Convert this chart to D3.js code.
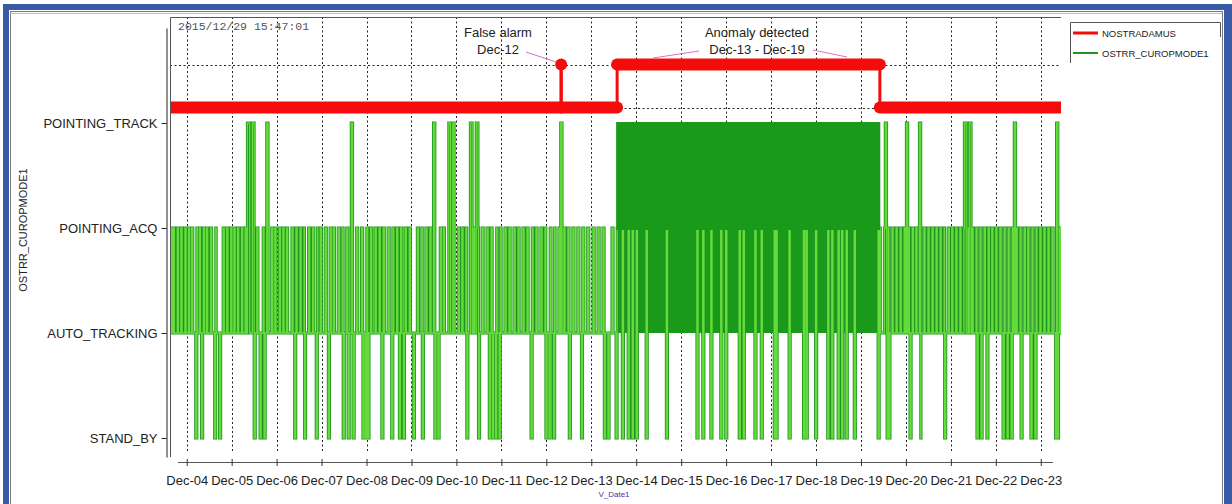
<!DOCTYPE html>
<html>
<head>
<meta charset="utf-8">
<script src="https://cdn.jsdelivr.net/npm/d3@7"></script>
<style>
  body { margin: 0; background: #fff; }
  svg { display: block; font-family: "Liberation Sans", Arial, sans-serif; }
</style>
</head>
<body>
<svg id="chart" width="1232" height="504"></svg>
<script>
"use strict";

/*
 * OSTRR_CUROPMODE1 mode history with the NOSTRADAMUS anomaly flag on top.
 * Times are days of December 2015 (4.5 = Dec-04 12:00).
 */

const states = ["STAND_BY", "AUTO_TRACKING", "POINTING_ACQ", "POINTING_TRACK"];
const dayTicks = d3.range(4, 24);
const timeSpan = [3.628, 23.45];

// NOSTRADAMUS flag: 0 = nominal, 1 = anomaly
const nostraDays = [3.628, 12.33, 12.33, 12.33, 13.575, 13.575, 19.42, 19.42, 23.45];
const nostraVals = [0, 0, 1, 0, 0, 1, 1, 0, 0];

// flicker between POINTING_TRACK and AUTO_TRACKING
const denseRange = [13.575, 19.43];

// short rises from AUTO_TRACKING to POINTING_ACQ
const acqPulsesA = [
  3.66, 3.70, 3.79, 3.87, 3.96, 4.04, 4.11, 4.21, 4.28, 4.37, 4.44, 4.53, 4.63, 4.73,
  4.81, 4.89, 4.98, 5.05, 5.13, 5.22, 5.30, 5.56, 5.63, 5.70, 5.89, 5.96, 6.06, 6.14,
  6.22, 6.34, 6.43, 6.52, 6.61, 6.71, 6.80, 6.89, 6.97, 7.08, 7.19, 7.26, 7.37, 7.47,
  7.56, 7.78, 7.89, 8.00, 8.09, 8.19, 8.28, 8.37, 8.48, 8.58, 8.67, 8.76, 8.86, 8.95,
  9.04, 9.13, 9.23, 9.32, 9.41, 9.64, 9.71, 10.04, 10.12, 10.21, 10.38, 10.48, 10.57,
  10.68, 10.77, 10.88, 10.97, 11.08, 11.17, 11.28, 11.37, 11.48, 11.57, 11.68, 11.77,
  11.88, 11.97, 12.08, 12.17, 12.28, 12.39, 12.48, 12.59, 12.70, 12.81, 12.92, 13.04,
  13.15, 13.26, 13.37, 13.46
];
const acqPulsesB = [
  19.52, 19.60, 19.69, 19.78, 19.87, 19.96, 20.05, 20.14, 20.22, 20.31, 20.40, 20.49,
  20.58, 20.67, 20.76, 20.85, 20.94, 21.02, 21.11, 21.20, 21.29, 21.38, 21.47, 21.56,
  21.65, 21.74, 21.83, 21.91, 22.00, 22.09, 22.18, 22.27, 22.36, 22.45, 22.54, 22.63,
  22.71, 22.80, 22.89, 22.98, 23.07, 23.16, 23.25, 23.34, 23.42
];

// short drops to STAND_BY
const standbyDips = [
  4.20, 4.33, 4.62, 4.73, 5.37, 5.50, 5.63, 5.72, 6.40, 6.62, 6.88, 7.15, 7.48, 7.59,
  7.70, 7.92, 7.98, 8.03, 8.34, 8.56, 8.73, 8.82, 9.04, 9.24, 9.52, 9.59, 9.83, 10.23,
  10.49, 10.73, 10.80, 10.87, 10.95, 11.66, 11.99, 12.06, 12.16, 12.51, 12.78, 13.29,
  13.37, 13.55, 13.69, 13.82, 13.91, 14.00, 14.22, 14.67, 15.35, 15.48, 15.66, 15.88,
  15.99, 16.29, 16.38, 16.64, 16.78, 17.07, 17.11, 17.40, 17.72, 17.78, 17.99, 18.26,
  18.35, 18.49, 18.57, 18.67, 18.85, 19.38, 19.58, 19.62, 20.09, 20.31, 20.86, 21.31,
  21.58, 21.67, 21.80, 22.16, 22.25, 22.34, 22.56, 22.78, 22.87, 23.33, 23.37
];

// short rises to POINTING_TRACK: start / end
const trackStart = [5.35, 5.46, 5.78, 7.66, 9.49, 9.83, 9.92, 10.31, 10.44, 12.32, 19.54, 20.01, 20.30, 21.30, 21.41, 22.41, 23.35];
const trackEnd   = [5.40, 5.50, 5.81, 7.69, 9.52, 9.87, 9.95, 10.35, 10.48, 12.35, 19.57, 20.04, 20.33, 21.34, 21.45, 22.44, 23.38];

const pulseWidth = 0.026;

const toDate = d => new Date(Date.UTC(2015, 10, 30) + d * 864e5);

const svg = d3.select("#chart");
const plot = {left: 170, right: 1061, top: 17, bottom: 455};

const x = d3.scaleUtc()
    .domain(timeSpan.map(toDate))
    .range([plot.left, plot.right]);
const y = d3.scaleLinear()
    .domain([-0.181, 3.905])
    .range([457, 28]);
const yFlag = d3.scaleLinear()
    .domain([0, 1])
    .range([107.5, 64.5]);

// page frame
svg.append("rect").attr("width", 1232).attr("height", 504).attr("fill", "#fff");
svg.append("rect").attr("x", 3).attr("y", 4).attr("width", 1229).attr("height", 500)
    .attr("fill", "#3a5aa7");
svg.append("rect").attr("x", 9).attr("y", 10).attr("width", 1215).attr("height", 494)
    .attr("fill", "#fff");
svg.append("rect").attr("x", 10.5).attr("y", 11.5).attr("width", 1212).attr("height", 500)
    .attr("fill", "none").attr("stroke", "#777").attr("stroke-width", 1);
svg.append("line").attr("x1", 10).attr("x2", 1222).attr("y1", 13.5).attr("y2", 13.5)
    .attr("stroke", "#bbb");

svg.append("defs").append("clipPath").attr("id", "plotClip")
  .append("rect")
    .attr("x", plot.left).attr("y", plot.top)
    .attr("width", plot.right - plot.left).attr("height", plot.bottom - plot.top);

// grid
const grid = svg.append("g");
grid.selectAll("line.v")
  .data(dayTicks)
  .join("line")
    .attr("class", "v")
    .attr("x1", d => Math.round(x(toDate(d))) + 0.5)
    .attr("x2", d => Math.round(x(toDate(d))) + 0.5)
    .attr("y1", plot.top)
    .attr("y2", 452)
    .attr("stroke", "#222")
    .attr("stroke-dasharray", "2,2.5");
grid.selectAll("line.h")
  .data([0, 1])
  .join("line")
    .attr("class", "h")
    .attr("x1", plot.left)
    .attr("x2", plot.right)
    .attr("y1", d => Math.round(yFlag(d)) + 0.5)
    .attr("y2", d => Math.round(yFlag(d)) + 0.5)
    .attr("stroke", "#222")
    .attr("stroke-dasharray", "2,2.5");

// green series as a step function
const acqPulses = acqPulsesA.concat(acqPulsesB);

function modeAt(t) {
  for (let i = 0; i < trackStart.length; i++) {
    if (t >= trackStart[i] && t < trackEnd[i]) return 3;
  }
  for (const d of standbyDips) {
    if (t >= d && t < d + pulseWidth) return 0;
  }
  if (t >= denseRange[0] && t < denseRange[1]) return 2;
  for (const d of acqPulses) {
    if (t >= d && t < d + pulseWidth) return 2;
  }
  return 1;
}

function modeSeries() {
  let times = [timeSpan[0], timeSpan[1]]
    .concat(denseRange, trackStart, trackEnd,
            acqPulses, acqPulses.map(d => d + pulseWidth),
            standbyDips, standbyDips.map(d => d + pulseWidth));
  times = Array.from(new Set(times)).sort(d3.ascending);
  return times.map(t => ({t, v: modeAt(t)}));
}

const modes = modeSeries();
const modeLine = d3.line()
    .x(d => x(toDate(d.t)))
    .y(d => y(d.v))
    .curve(d3.curveStepAfter);

const green = svg.append("g").attr("clip-path", "url(#plotClip)");
green.append("rect")
    .attr("x", x(toDate(denseRange[0])))
    .attr("width", x(toDate(denseRange[1])) - x(toDate(denseRange[0])))
    .attr("y", y(2))
    .attr("height", y(1) - y(2))
    .attr("fill", "#1a9a1a");
green.append("path")
    .datum(modes)
    .attr("d", modeLine)
    .attr("fill", "none")
    .attr("stroke", "#1f951f")
    .attr("stroke-width", 3);
green.append("path")
    .datum(modes)
    .attr("d", modeLine)
    .attr("fill", "none")
    .attr("stroke", "#66dc3c")
    .attr("stroke-width", 1.3);
green.append("rect")
    .attr("x", x(toDate(denseRange[0])) - 1)
    .attr("width", x(toDate(denseRange[1])) - x(toDate(denseRange[0])) + 1)
    .attr("y", y(3) - 1)
    .attr("height", y(2) - y(3) + 3)
    .attr("fill", "#1a9a1a");

// NOSTRADAMUS
const flagPts = nostraDays.map((d, i) => ({t: d, v: nostraVals[i]}));
const red = svg.append("g").attr("clip-path", "url(#plotClip)");
const segs = d3.pairs(flagPts);
red.selectAll("line.seg")
  .data(segs)
  .join("line")
    .attr("class", "seg")
    .attr("x1", d => x(toDate(d[0].t)))
    .attr("x2", d => x(toDate(d[1].t)))
    .attr("y1", d => yFlag(d[0].v))
    .attr("y2", d => yFlag(d[1].v))
    .attr("stroke", "#f40c0c")
    .attr("stroke-linecap", d => d[0].t === d[1].t ? "butt" : "round")
    .attr("stroke-width", d => d[0].t === d[1].t ? 3 : 12);
red.selectAll("circle")
  .data(flagPts.filter((d, i) => i > 0 && i < flagPts.length - 1 &&
        flagPts[i - 1].t === d.t && flagPts[i + 1].t === d.t && d.v === 1))
  .join("circle")
    .attr("cx", d => x(toDate(d.t)))
    .attr("cy", d => yFlag(d.v))
    .attr("r", 6)
    .attr("fill", "#f40c0c");

// plot border
svg.append("path")
    .attr("d", `M${plot.left + 0.5},${plot.bottom + 2}V${plot.top + 0.5}H${plot.right}`)
    .attr("fill", "none")
    .attr("stroke", "#555");

// y axis
const yAxis = svg.append("g")
    .attr("transform", "translate(166.5,0)")
    .call(d3.axisLeft(y)
      .tickValues(d3.range(states.length))
      .tickFormat(i => states[i])
      .tickSize(5)
      .tickSizeOuter(0)
      .tickPadding(4));
yAxis.select(".domain").attr("stroke", "#222");
yAxis.selectAll(".tick line").attr("stroke", "#222");
yAxis.selectAll("text")
    .attr("fill", "#222")
    .style("font-size", "13px")
    .style("font-family", "Liberation Sans, Arial, sans-serif");

// x axis
svg.append("line")
    .attr("x1", 178).attr("x2", 1053)
    .attr("y1", 462.5).attr("y2", 462.5)
    .attr("stroke", "#555");
const xAxis = svg.append("g")
    .attr("transform", "translate(0,459)")
    .call(d3.axisBottom(x)
      .tickValues(dayTicks.map(toDate))
      .tickFormat(d3.utcFormat("%b-%d"))
      .tickSize(7)
      .tickPadding(10));
xAxis.select(".domain").remove();
xAxis.selectAll(".tick line").attr("stroke", "#333");
xAxis.selectAll("text")
    .attr("fill", "#222")
    .style("font-size", "13px")
    .style("font-family", "Liberation Sans, Arial, sans-serif");

svg.append("text")
    .attr("x", 614).attr("y", 497)
    .attr("text-anchor", "middle")
    .attr("fill", "#5a2aa0")
    .style("font-size", "8px")
    .text("V_Date1");

svg.append("text")
    .attr("transform", "translate(27,230) rotate(-90)")
    .attr("text-anchor", "middle")
    .attr("fill", "#222")
    .style("font-size", "11px")
    .text("OSTRR_CUROPMODE1");

svg.append("text")
    .attr("x", 178).attr("y", 30)
    .attr("fill", "#555")
    .style("font-family", "Liberation Mono, DejaVu Sans Mono, monospace")
    .style("font-size", "11.5px")
    .text("2015/12/29 15:47:01");

// annotations
const notes = [
  {lines: ["False alarm", "Dec-12"], cx: 498, leaders: [[526, 52, 556, 62]]},
  {lines: ["Anomaly detected", "Dec-13 - Dec-19"], cx: 757,
   leaders: [[653, 58, 699, 51], [813, 50, 847, 57]]}
];
const note = svg.append("g");
notes.forEach(n => {
  n.lines.forEach((s, i) => {
    note.append("text")
        .attr("x", n.cx).attr("y", 37 + i * 17)
        .attr("text-anchor", "middle")
        .attr("fill", "#222")
        .style("font-size", "13px")
        .text(s);
  });
  n.leaders.forEach(l => {
    note.append("line")
        .attr("x1", l[0]).attr("y1", l[1]).attr("x2", l[2]).attr("y2", l[3])
        .attr("stroke", "#e070c8").attr("stroke-width", 1);
  });
});

// legend
const legendItems = [
  {name: "NOSTRADAMUS", color: "#f40c0c", w: 3},
  {name: "OSTRR_CUROPMODE1", color: "#1f951f", w: 2}
];
const legend = svg.append("g");
legend.append("path")
    .attr("d", "M1070.5,63V22.5H1220.5V37")
    .attr("fill", "none").attr("stroke", "#555");
legend.selectAll("g")
  .data(legendItems)
  .join("g")
    .attr("transform", (d, i) => `translate(1073,${33 + i * 20})`)
    .each(function(d) {
      const g = d3.select(this);
      g.append("line").attr("x1", 0).attr("x2", 25)
          .attr("stroke", d.color).attr("stroke-width", d.w);
      g.append("text").attr("x", 29).attr("y", 3.5)
          .attr("fill", "#222")
          .style("font-size", "9.5px")
          .text(d.name);
    });
</script>
</body>
</html>
